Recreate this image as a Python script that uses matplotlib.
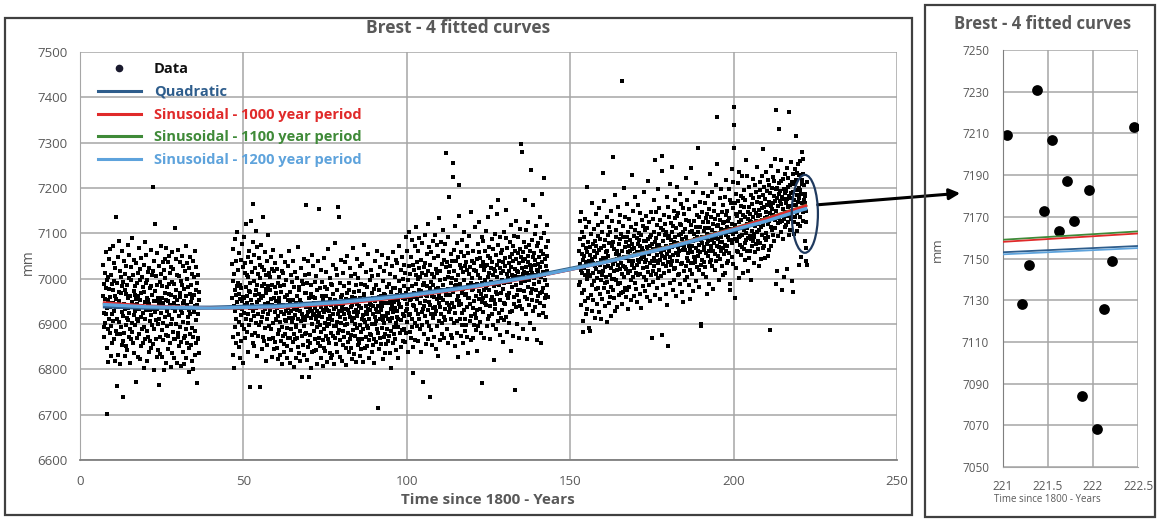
import numpy as np
import matplotlib
matplotlib.use("Agg")
import matplotlib.pyplot as plt
from matplotlib.patches import Ellipse, Rectangle
from matplotlib.lines import Line2D

plt.rcParams["font.family"] = ["Open Sans", "DejaVu Sans"]

# ---------------- text ----------------
title = "Brest - 4 fitted curves"
x_label = "Time since 1800 - Years"
y_label = "mm"
legend_labels = ["Data", "Quadratic", "Sinusoidal - 1000 year period",
                 "Sinusoidal - 1100 year period", "Sinusoidal - 1200 year period"]

# ---------------- data: monthly mean sea level (mm), read/ ----------------
start_a = (1807, 1)
levels_a = """
6962 7031 6894 6925 6988 6871 6940 7012 6955 6903 7058 6980
6921 6998 6847 6702 6935 6889 7004 6952 6816 6977 7043 6910
7066 6938 6881 6960 6830 7009 6947 6895 6989 6921 6858 7072
6975 6907 6946 7035 6866 6928 6994 6818 6961 7024 6884 6937
7135 6956 6764 6912 6990 6879 7047 6938 6832 6971 7082 6905
6950 7018 6877 6939 6811 6969 7003 6894 6926 7060 6853 6983
6740 6918 6992 6863 7039 6945 6881 6976 6829 7011 6932 6898
6967 6851 7029 6914 6986 6842 6958 7074 6908 6935 6872 7001
6924 7053 6889 6962 6815 6998 6937 6866 7026 6949 6903 7090
6882 6941 7007 6858 6973 6920 6836 7042 6965 6897 6984 6929
6773 6955 7034 6911 6869 6990 6944 6827 7013 6906 6961 7068
6934 6877 6996 6952 6823 7021 6915 6968 6851 7046 6939 6890
7003 6925 6859 6981 6937 6804 6970 7030 6893 6948 7081 6912
6866 6990 6931 7052 6885 6957 6819 6997 6940 6872 7015 6954
6945 6838 7024 6907 6979 6931 6862 7064 6919 6983 6846 7008
6897 6964 7203 6856 6933 7017 6888 6951 6799 7040 6926 6973
7121 6909 6950 6868 7006 6934 6828 6986 7057 6899 6957 6843
6766 6941 7028 6912 6871 6993 6949 6834 7011 6924 7073 6886
6958 6827 6983 7037 6903 6946 6865 7020 6937 6798 6969 7044
6915 7002 6876 6954 6813 7067 6929 6896 6982 6845 7036 6950
6874 6967 7049 6920 6988 6857 6941 7012 6806 6963 6901 7026
6993 6911 6837 7058 6936 6882 7021 6947 6868 6989 6824 6960
7112 6928 6866 6976 7044 6901 6952 6815 7009 6937 6880 7063
6940 6872 7005 6917 6852 6968 7037 6893 6959 6808 6994 6931
6861 7051 6925 6987 6838 6946 6904 7028 6869 6978 6950 6812
7018 6936 6874 6962 7071 6889 6825 6999 6943 6857 7035 6915
6903 6981 6848 7024 6930 6795 6966 6877 7047 6921 6853 6987
6949 6818 7010 6892 6958 7039 6871 6936 6801 7003 6927 6964
6884 7062 6940 6831 6975 6909 7026 6857 6770 6990 6943 6869
7008 6922 6866 6971 6837 6953
"""

start_b = (1846, 7)
levels_b = """
6958 7032 6871 6994 6832 7065
6940 6804 7011 6976 6893 7088 6929 6965 6857 7040 6912 6983
7103 6948 6878 7019 6936 6991 6849 6967 7057 6905 6955 6826
6987 6919 7041 6862 6979 6933 7076 6898 6950 6814 7026 6960
6924 7092 6957 6888 7013 6941 6869 7035 6982 6910 7121 6946
7009 6883 6961 7048 6921 6839 7004 6972 6897 7061 6935 6990
6762 6971 7037 6908 7128 6954 6876 7015 6943 6859 7080 6928
7165 6995 6917 6852 7052 6963 7023 6881 6976 6936 7106 6903
6948 7069 6830 6986 6922 7011 6874 6966 7045 6897 6952 7031
6760 6937 7002 6905 7074 6958 6844 6983 6916 7026 6871 6962
7135 6926 6989 6863 7019 6945 6892 7058 6934 6977 6818 7007
6968 6853 7039 6911 6984 7096 6921 6947 6868 7013 6940 6896
7004 6931 6866 6975 7047 6889 6956 6827 7021 6942 6985 6870
6939 7063 6902 6957 6844 7016 6927 6981 6861 7035 6909 6950
6912 6968 6847 7022 6935 6879 6991 6918 6823 7004 6949 6886
6957 6832 6984 6905 7051 6926 6862 6971 6894 6940 6811 7018
6874 6943 7013 6856 6921 6987 6839 6960 6908 7036 6877 6929
6998 6906 6852 6964 6891 6826 7027 6935 6869 6952 6913 7061
6925 6869 6971 6815 6946 7009 6888 6928 6842 6993 6905 6954
6860 7039 6913 6953 6877 6934 6805 6981 6920 6866 7015 6897
6947 6893 6826 7002 6931 6870 6962 6911 7070 6849 6939 6982
6836 6975 6929 6884 6952 6818 7023 6906 6947 6873 6995 6921
6782 6916 6989 6854 6942 7044 6895 6831 6968 6909 6878 7007
7163 6881 6937 6969 6820 6918 6991 6863 7040 6926 6850 6958
6782 6944 7011 6876 6932 6858 6985 6913 6803 6967 6928 7052
6901 6838 6960 6922 7029 6885 6947 6841 6919 6993 6866 6936
6957 6912 6843 7006 6894 6929 6812 6974 6905 6859 7038 6918
7154 6870 6925 6979 6852 6944 6897 6826 7019 6938 6883 6962
6916 6992 6864 6931 6807 6955 7045 6889 6927 6846 6981 6903
6841 6937 7015 6873 6962 6895 6930 6817 6977 6911 7066 6868
6928 6859 6946 6900 6835 7002 6917 6955 6880 6941 6826 6989
6985 6909 6832 6966 6923 6874 7031 6896 6949 6812 6934 7079
6869 6954 6895 7021 6856 6938 6904 6975 6838 7008 6921 6881
7159 6928 7135 6887 6945 6865 6991 6916 6827 6959 7042 6902
6937 6818 6963 6929 7012 6884 6944 6853 6921 6983 6872 6948
6898 7037 6911 6847 6956 6933 6809 6968 6901 7050 6930 6861
6954 6880 6990 6924 6839 6975 6915 7024 6867 6938 6846 7005
6875 6943 6822 6960 6907 7068 6886 6949 6913 6834 6970 6926
7011 6901 6957 6873 6930 6816 6986 6918 7043 6891 6945 6853
6926 6866 7001 6940 6859 6972 6897 6829 6958 7027 6883 6935
6844 6988 6912 6867 7033 6920 6952 6890 6816 6966 7075 6909
6963 6905 6848 6985 6927 6872 6939 7015 6895 6851 6981 6921
6892 7054 6933 6826 6956 6910 6864 6997 6930 6879 6945 7019
6943 6876 6969 6901 6838 7006 6923 6958 6853 6940 6815 6978
6867 6951 6899 7040 6916 6861 6987 6906 6934 7062 6888 6926
6715 6939 7008 6881 6960 6927 6845 6975 6912 6869 7026 6947
6930 6855 6962 6918 7053 6892 6940 6823 6994 6909 6871 6966
6903 7016 6879 6947 6836 6963 7032 6917 6856 6981 6924 6889
6959 6911 7045 6863 6925 6989 6873 6946 7010 6837 6951 6907
6804 6970 6932 6885 7027 6941 6914 6858 6979 6926 7058 6894
6948 6878 6956 7003 6866 6935 6980 6902 6843 7041 6929 6965
6916 7034 6893 6952 6911 6825 6995 6944 7071 6881 6938 6972
6975 6908 6849 7019 6937 6964 6887 7048 6922 6957 6862 6999
6890 6983 7030 6918 6861 6955 7013 6928 6880 6969 7092 6933
6944 7061 6905 6977 6838 6998 7027 6919 6960 7104 6882 6953
7011 6923 6869 7048 6955 6893 6983 7085 6911 6942 6850 7030
6793 6968 7019 6940 7071 6902 6959 6864 7007 6931 6988 7115
6955 7037 6895 6999 6921 7062 6863 6976 7024 6910 7090 6947
7004 6888 6972 7041 6839 6961 7013 6926 7078 6898 6985 6934
6773 6990 6940 7026 6879 7097 6951 6917 7035 6964 6856 7008
6962 7054 6905 6983 7120 6930 6868 7017 6949 7069 6895 6979
6740 6943 7030 6886 6992 6921 7058 6961 6853 7010 6935 7084
6987 6913 7045 6960 6871 7003 6938 7096 6922 6977 6844 7021
6929 7075 6896 7012 6956 6829 6980 7049 6907 6964 7133 6946
7016 6938 6865 6997 7081 6923 6958 6877 7033 6975 6902 7060
6952 7108 6985 6915 7042 6870 6999 6934 7077 6908 6968 7025
7278 6964 6889 7036 6947 7003 6858 6977 7091 6926 7014 6941
7181 6933 7027 6965 6875 7055 6991 6910 7040 6946 6869 7002
7256 7225 6971 6902 7064 6937 7018 6852 6983 7117 6924 6996
6986 7038 6906 7078 6953 6880 7009 6962 6827 7047 6941 7139
7207 6950 7031 6911 6989 7058 6874 6944 7023 6969 6898 7086
6924 7015 6857 6978 7103 6931 6996 7049 6910 6963 7027 6885
7037 6897 6966 7073 6938 6871 7019 6986 6835 7056 6957 7011
6958 7094 6982 6906 7026 6945 7148 6917 6991 6864 7040 6974
7002 6936 6869 7061 6977 7020 6898 7035 6950 7115 6923 6985
6887 7017 6961 6914 6840 7043 6988 6930 7077 6895 7008 6956
7059 6972 7124 6933 7001 6905 7046 6967 6881 7028 6949 7092
6770 6991 7036 6958 7084 6927 6975 7019 6870 6947 7062 6998
7029 6943 6980 7106 6962 7031 6895 6986 7050 6912 7003 7137
6976 7070 6918 7012 6940 6868 7045 6993 7158 6954 7024 6921
7087 6959 7036 6897 7008 7065 6952 6820 7021 6983 7099 6945
6932 7016 6971 7052 6888 7003 7143 6966 7030 6907 6989 7074
7174 6987 6924 7040 7091 6952 6876 7023 6969 7056 6913 7012
6996 7063 6931 6978 7018 6860 7037 6947 7102 6990 6908 7045
7028 6944 7089 6993 7151 6916 7011 6965 6883 7068 7002 6957
6961 7034 6902 7016 6968 7081 6926 7047 6992 6841 7025 7119
7055 6982 7009 6929 7071 7000 6874 7038 6959 7094 6945 7022
6755 7006 7062 6985 6938 7044 7128 6963 7017 6899 7057 6976
7014 7093 6951 7035 6870 7003 6976 7066 6939 7110 6991 7047
7296 7280 6998 7024 6934 7058 7011 6888 7040 6972 7081 7015
7174 6960 7043 6994 7107 6921 7026 7069 6955 7012 6867 7036
7050 6981 7124 7007 6942 7075 6996 7031 6903 7062 7019 6968
7240 7027 6954 7086 7013 6977 7048 6929 7163 7002 7057 6890
6989 7042 7098 6938 7030 6974 7116 7008 6951 7072 6865 7020
7033 6962 7016 7079 6920 7047 6993 7135 6968 7025 6946 7090
6859 7061 7003 6971 7037 7186 6924 7014 7054 6980 7101 6939
7222 7008 6957 7043 6997 6916 7070 7029 6963 7119 6986 7051
7017 6960 7084
"""

start_c = (1952, 9)
levels_c = """
7061 6985 7128 7032
6993 7087 7020 6941 7146 7055 6968 7013 7102 6906 7041 7075
6883 7024 7092 6976 7049 7131 6950 7008 7067 6921 7113 7036
7203 6999 7058 6934 7081 7018 6957 7124 7040 6892 7009 7070
6885 7052 7006 7098 6963 7037 7166 6987 7043 6929 7077 7012
7035 6952 7110 7061 6994 7027 6913 7084 7047 7142 6978 7021
7072 7001 6945 7057 7119 6980 7034 7095 6926 7063 7014 7155
6966 7088 7030 6997 7068 6911 7041 7104 7009 6955 7126 7046
7234 7018 6980 7073 7045 7172 6939 7026 7085 6990 7059 7003
7044 7137 6992 7061 6905 7028 7097 6971 7050 7115 6946 7079
7008 6960 7103 7039 6982 7149 7024 6917 7071 7000 7128 6975
7269 7033 7080 6958 7016 7065 6999 7185 7040 6928 7092 7055
6996 7108 7019 7062 6937 7044 7157 6989 7031 7076 6965 7124
7052 6990 7087 7021 7140 6968 7035 7098 7010 7435 7061 6944
7093 7029 6971 7117 7048 7003 7201 6980 7069 7026 7135 6959
7022 7080 7046 6975 7092 7164 7013 7058 6933 7104 7040 7072
6981 7132 7060 7018 7086 6954 7049 7115 6997 7077 7228 7031
7066 7003 7150 7039 6962 7094 7024 7067 7180 6991 7055 7108
7013 7121 6978 7059 7090 7030 6949 7076 7042 7162 7009 7085
7101 7037 7073 6966 7145 7011 7058 7097 6935 7044 7129 7068
7047 6983 7116 7061 7024 7192 7003 7084 7050 6972 7107 7036
6998 7083 7042 7139 6959 7070 7112 7026 7088 7216 7015 7060
7126 7055 6987 7093 7034 7071 6950 7148 7062 7009 7097 7040
6870 7077 7131 7018 7066 6992 7104 7045 7173 7028 7081 6963
7262 7038 7089 7010 7147 7052 6979 7118 7071 7035 7198 7002
7074 7155 7020 7099 6956 7067 7130 7041 7006 7112 7058 7237
6876 7271 7050 7108 7033 7084 6985 7064 7141 7012 7096 7047
7045 7120 6967 7072 7103 7028 7181 7055 6943 7090 7036 7159
6852 7061 7137 7016 7094 7048 7209 6990 7075 7123 7031 7086
7247 7039 7102 7069 6975 7116 7053 7150 7021 7080 6996 7134
7091 7024 7173 7057 7112 6962 7078 7138 7040 7203 7069 7007
7052 7145 7011 7096 7061 7186 6989 7074 7120 7033 7098 7165
7118 6971 7087 7035 7156 7063 7103 6948 7079 7142 7017 7070
6998 7109 7064 7222 7027 7093 7130 7046 7174 7004 7083 7057
7081 7040 7127 6986 7071 7153 7019 7102 7066 6955 7119 7035
7245 7072 7011 7106 7058 7191 7034 7084 6973 7128 7047 7099
7036 7160 7088 7042 7115 6994 7067 7210 7026 7093 7140 7060
7289 7051 7104 7020 7137 7075 6982 7114 7058 7169 7031 7085
6896 6899 7093 7147 7041 7079 7125 7010 7188 7063 7106 7037
7070 7112 7025 7168 7090 7003 7134 7057 7098 6967 7143 7076
7125 7049 7183 7083 6989 7111 7062 7154 7036 7097 7230 7069
7041 7136 7073 7107 7027 7192 7085 6978 7121 7060 7150 7094
7164 7078 7020 7131 7100 7055 7206 7089 7038 7117 7071 7253
7357 7087 7140 7051 7118 7070 6996 7099 7177 7043 7129 7080
7093 7198 7061 7110 7029 7147 7081 7122 7008 7163 7067 7104
7126 7054 7107 7181 7075 7013 7140 7096 7218 7062 7113 7035
7071 7150 7092 7040 7128 7197 7085 7056 7133 6989 7174 7103
6976 7109 7167 7086 7241 7047 7120 7079 7155 7033 7098 7214
7379 7340 7289 6958 7119 7166 7087 7142 7024 7104 7186 7060
7138 7083 7210 7112 7058 7171 7001 7125 7091 7236 7074 7147
7095 7183 7129 7052 7160 7097 7226 7069 7115 7140 7012 7178
7157 7066 7108 7195 7078 7136 7041 7173 7101 7261 7085 7120
7111 7226 7062 7148 7016 7131 7089 7158 7203 7045 7127 7094
7060 7143 7184 7087 7124 6998 7165 7105 7072 7137 7219 7082
7179 7098 7035 7152 7093 7207 7117 7058 7144 7076 7192 7127
7104 7170 7121 7246 7065 7139 7084 7181 7028 7152 7108 7213
7140 7079 7196 7113 7166 7043 7129 7227 7097 7156 7068 7185
7287 7119 7158 7071 7202 7134 7090 7175 7046 7148 7235 7101
7086 7194 7137 7162 7050 7121 7217 7093 7170 7127 7064 7206
6887 7145 7188 7113 7161 7249 7072 7136 7199 7108 7153 7224
7167 7096 7140 7215 7082 7183 7129 7264 7111 7171 6988 7197
7373 7150 7201 7016 7177 7122 7238 7160 7095 7186 7134 7212
7331 7172 7124 7193 7262 7103 7165 7216 7141 6976 7180 7127
7153 7220 7088 7175 7132 7197 7003 7146 7231 7114 7189 7168
7194 7118 7176 7245 7138 7022 7203 7157 7126 7221 7097 7183
7368 7139 7206 7161 7108 7188 7257 7131 7179 6995 7214 7150
6970 7191 7147 7230 7124 7174 7099 7208 7162 7242 7135 7196
7315 7163 7217 7106 7185 7144 7233 7121 7170 7252 7031 7201
7178 7229 7137 7196 7117 7260 7155 7187 7047 7218 7166 7279
7209 7265 7128 7147 7231 7173 7207 7163 7187 7168 7084 7183
7068 7126 7149 7040 7030 7213
"""

# fitted curves (years since 1800, mm)
curve_x    = [7, 20, 40, 60, 80, 100, 120, 140, 160, 180, 200, 210, 221, 222.5]
quadratic  = [6939, 6936, 6936, 6940, 6950, 6964, 6983, 7007, 7036, 7069, 7107, 7128, 7153, 7156]
sin_1000   = [6947, 6940, 6935, 6936, 6945, 6960, 6980, 7005, 7035, 7070, 7110, 7132, 7158, 7162]
sin_1100   = [6946, 6939, 6935, 6937, 6946, 6961, 6981, 7006, 7036, 7071, 7111, 7133, 7159, 7163]
sin_1200   = [6943, 6938, 6935, 6938, 6948, 6962, 6982, 7006, 7035, 7069, 7108, 7127, 7152, 7155]

main_xticks = [0, 50, 100, 150, 200, 250]
main_yticks = [6600, 6700, 6800, 6900, 7000, 7100, 7200, 7300, 7400, 7500]
inset_xticks = [221, 221.5, 222, 222.5]
inset_xticklabels = ["221", "221.5", "222", "222.5"]
inset_yticks = [7050, 7070, 7090, 7110, 7130, 7150, 7170, 7190, 7210, 7230, 7250]


def monthly(start, text):
    vals = np.array(text.split(), dtype=float)
    y0, m0 = start
    k = np.arange(len(vals))
    t = (y0 - 1800) + (m0 - 1 + k + 0.5) / 12.0
    return t, vals


segs = [monthly(start_a, levels_a), monthly(start_b, levels_b), monthly(start_c, levels_c)]
t_all = np.concatenate([s[0] for s in segs])
v_all = np.concatenate([s[1] for s in segs])

# ---------------- styling ----------------
W, H = 1157, 520
GRAY_TXT = "#595959"
GRID = "#a6a6a6"
C_QUAD = "#2e5d8c"
C_RED = "#e02a2a"
C_GREEN = "#3f8a38"
C_LBLUE = "#5ea3dc"

fig = plt.figure(figsize=(W / 100, H / 100), dpi=100)
fig.patch.set_facecolor("white")

# panel frames
fig.add_artist(Rectangle((5 / W, 1 - 515 / H), 907 / W, 497 / H, transform=fig.transFigure,
                         fill=False, ec="#404040", lw=1.6))
fig.add_artist(Rectangle((925 / W, 1 - 517 / H), 230 / W, 512 / H, transform=fig.transFigure,
                         fill=False, ec="#404040", lw=1.6))

# ---------------- main chart ----------------
ax = fig.add_axes([80 / W, 1 - 460 / H, 817 / W, 408 / H])
ax.set_xlim(0, 250)
ax.set_ylim(6600, 7500)
ax.set_xticks(main_xticks)
ax.set_yticks(main_yticks)
ax.set_xticklabels([str(v) for v in main_xticks])
ax.set_yticklabels([str(v) for v in main_yticks])
ax.tick_params(length=0, labelsize=9.5, labelcolor=GRAY_TXT)
ax.tick_params(axis="x", pad=11)
ax.tick_params(axis="y", pad=9)
ax.grid(True, color=GRID, lw=1.1)
ax.set_axisbelow(True)
for s in ["top", "right"]:
    ax.spines[s].set_visible(False)
ax.spines["left"].set_color("#a6a6a6")
ax.spines["bottom"].set_color("#7f7f7f")
ax.spines["bottom"].set_linewidth(1.3)

ax.scatter(t_all, v_all, s=5, c="black", marker="s", linewidths=0, zorder=2)

ax.plot(curve_x, quadratic, color=C_QUAD, lw=3.0, zorder=3, solid_capstyle="butt")
ax.plot(curve_x, sin_1100, color=C_GREEN, lw=2.0, zorder=3.5, solid_capstyle="butt")
ax.plot(curve_x, sin_1000, color=C_RED, lw=2.2, zorder=4, solid_capstyle="butt")
ax.plot(curve_x, sin_1200, color=C_LBLUE, lw=2.4, zorder=5, solid_capstyle="butt")

ax.add_patch(Ellipse((221.8, 7143), width=8, height=172, fill=False, ec="#1f3a5f",
                     lw=1.6, zorder=6, clip_on=False))

handles = [
    Line2D([], [], ls="none", marker="o", ms=4.5, color="#1a1a2e"),
    Line2D([], [], color=C_QUAD, lw=2.2),
    Line2D([], [], color=C_RED, lw=2.2),
    Line2D([], [], color=C_GREEN, lw=2.2),
    Line2D([], [], color=C_LBLUE, lw=2.2),
]
leg = ax.legend(handles, legend_labels, loc="upper left", bbox_to_anchor=(0.009, 1.0),
                frameon=False, handlelength=2.95, handletextpad=0.9, labelspacing=0.6,
                borderaxespad=0.3, prop={"weight": "bold", "size": 10.5},
                labelcolor=["#111111", "#2e5d8c", C_RED, C_GREEN, C_LBLUE])
leg.set_zorder(7)

# arrow from ellipse to inset
ax.annotate("", xy=(963, H - 193), xytext=(815, H - 205), xycoords="figure pixels",
            textcoords="figure pixels",
            arrowprops=dict(arrowstyle="-|>", lw=2.2, color="black", mutation_scale=16),
            annotation_clip=False)

fig.text(458 / W, 1 - 28 / H, title, ha="center", va="center", fontsize=12.5,
         fontweight="bold", color=GRAY_TXT)
fig.text(488 / W, 1 - 500 / H, x_label, ha="center", va="center", fontsize=11,
         fontweight="bold", color=GRAY_TXT)
fig.text(28 / W, 1 - 262 / H, y_label, ha="center", va="center", fontsize=10,
         rotation=90, color=GRAY_TXT)

# ---------------- inset ----------------
ax2 = fig.add_axes([1003 / W, 1 - 467 / H, 135 / W, 417 / H])
ax2.set_xlim(221, 222.5)
ax2.set_ylim(7050, 7250)
ax2.set_xticks(inset_xticks)
ax2.set_xticklabels(inset_xticklabels)
ax2.set_yticks(inset_yticks)
ax2.set_yticklabels([str(v) for v in inset_yticks])
ax2.tick_params(length=0, labelsize=8.5, labelcolor=GRAY_TXT)
ax2.tick_params(axis="x", pad=9)
ax2.tick_params(axis="y", pad=10)
ax2.grid(True, color=GRID, lw=1.1)
ax2.set_axisbelow(True)
for s in ["top", "right"]:
    ax2.spines[s].set_visible(False)
ax2.spines["left"].set_color("#7f7f7f")
ax2.spines["bottom"].set_color("#a6a6a6")

ax2.scatter(t_all, v_all, s=60, c="black", marker="o", linewidths=0, zorder=2)
ax2.plot(curve_x, quadratic, color=C_QUAD, lw=1.3, zorder=3)
ax2.plot(curve_x, sin_1100, color=C_GREEN, lw=1.3, zorder=3)
ax2.plot(curve_x, sin_1000, color=C_RED, lw=1.3, zorder=3)
ax2.plot(curve_x, sin_1200, color=C_LBLUE, lw=1.3, zorder=3)

fig.text(1043 / W, 1 - 24 / H, title, ha="center", va="center", fontsize=12,
         fontweight="bold", color=GRAY_TXT)
fig.text(1047 / W, 1 - 500 / H, x_label, ha="center", va="center", fontsize=7,
         color=GRAY_TXT)
fig.text(937 / W, 1 - 250 / H, y_label, ha="center", va="center", fontsize=9.5,
         rotation=90, color=GRAY_TXT)

fig.savefig("out.png", dpi=100)
